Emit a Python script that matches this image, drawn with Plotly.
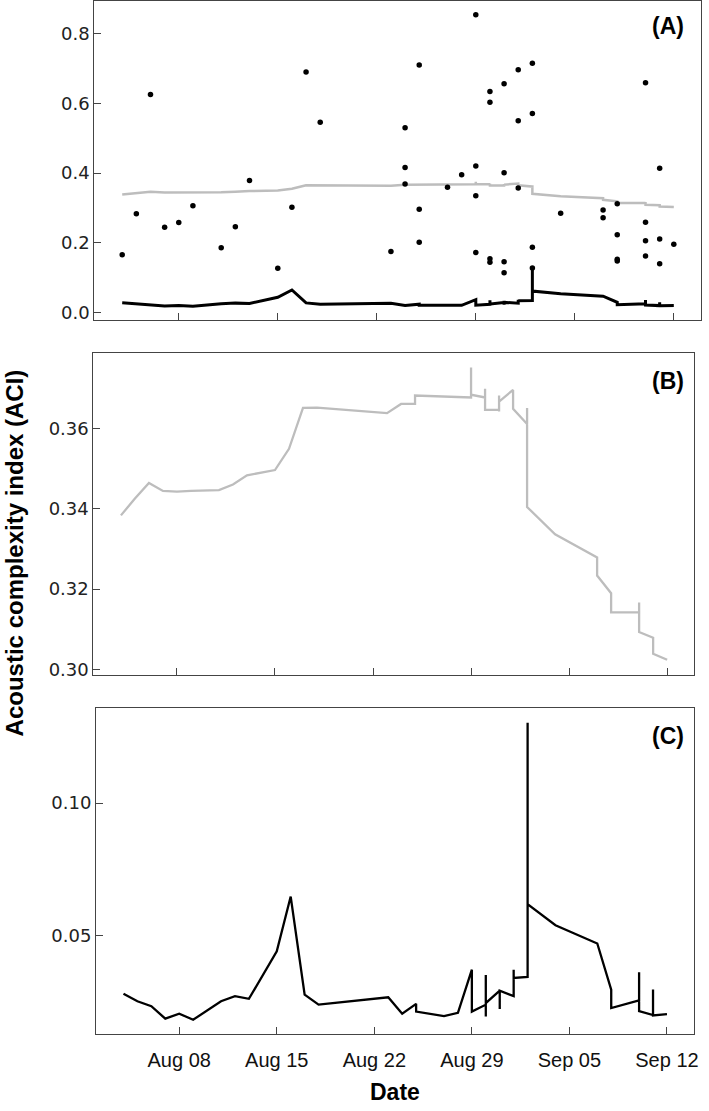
import plotly.graph_objects as go

W, H = 709, 1111

# ---------------- data ----------------
point_dates = [
    "2019-08-04", "2019-08-05", "2019-08-06", "2019-08-07", "2019-08-08", "2019-08-09",
    "2019-08-11", "2019-08-12", "2019-08-13", "2019-08-15", "2019-08-16", "2019-08-17",
    "2019-08-18", "2019-08-23",
    "2019-08-24", "2019-08-24", "2019-08-24",
    "2019-08-25", "2019-08-25", "2019-08-25",
    "2019-08-27", "2019-08-28",
    "2019-08-29", "2019-08-29", "2019-08-29", "2019-08-29",
    "2019-08-30", "2019-08-30", "2019-08-30", "2019-08-30",
    "2019-08-31", "2019-08-31", "2019-08-31", "2019-08-31",
    "2019-09-01", "2019-09-01", "2019-09-01",
    "2019-09-02", "2019-09-02", "2019-09-02", "2019-09-02",
    "2019-09-04",
    "2019-09-07", "2019-09-07",
    "2019-09-08", "2019-09-08", "2019-09-08", "2019-09-08",
    "2019-09-10", "2019-09-10", "2019-09-10", "2019-09-10",
    "2019-09-11", "2019-09-11", "2019-09-11",
    "2019-09-12",
]
point_aci = [
    0.166, 0.283, 0.625, 0.245, 0.258, 0.306,
    0.186, 0.246, 0.379, 0.127, 0.302, 0.690,
    0.546, 0.175,
    0.530, 0.416, 0.369,
    0.710, 0.296, 0.202,
    0.359, 0.395,
    0.854, 0.420, 0.335, 0.172,
    0.634, 0.603, 0.154, 0.144,
    0.656, 0.401, 0.146, 0.114,
    0.696, 0.550, 0.357,
    0.715, 0.571, 0.187, 0.128,
    0.285,
    0.294, 0.272,
    0.312, 0.223, 0.153, 0.148,
    0.659, 0.259, 0.206, 0.162,
    0.414, 0.211, 0.140,
    0.196,
]

mean_dates = [
    "2019-08-04", "2019-08-05", "2019-08-06", "2019-08-07", "2019-08-08", "2019-08-09",
    "2019-08-11", "2019-08-12", "2019-08-13", "2019-08-15", "2019-08-16", "2019-08-17",
    "2019-08-18", "2019-08-23", "2019-08-24",
    "2019-08-25", "2019-08-25",
    "2019-08-27", "2019-08-28",
    "2019-08-29", "2019-08-29", "2019-08-29",
    "2019-08-30", "2019-08-30", "2019-08-30",
    "2019-08-31", "2019-08-31", "2019-08-31", "2019-08-31",
    "2019-09-01", "2019-09-01",
    "2019-09-02", "2019-09-02", "2019-09-02",
    "2019-09-04",
    "2019-09-07", "2019-09-07",
    "2019-09-08", "2019-09-08",
    "2019-09-10", "2019-09-10", "2019-09-10",
    "2019-09-11", "2019-09-11",
    "2019-09-12",
]
mean_aci = [
    0.3384, 0.3426, 0.3465, 0.3445, 0.3443, 0.3445,
    0.3447, 0.3461, 0.3484, 0.3497, 0.3550, 0.3652,
    0.3653, 0.3639, 0.3662,
    0.3662, 0.3683,
    0.3680, 0.3679,
    0.3678, 0.3753, 0.3685,
    0.3678, 0.3700, 0.3647,
    0.3647, 0.3643, 0.3683, 0.3668,
    0.3697, 0.3650,
    0.3612, 0.3652, 0.3405,
    0.3337,
    0.3279, 0.3234,
    0.3190, 0.3142,
    0.3142, 0.3167, 0.3093,
    0.3079, 0.3039,
    0.3024,
]

sd_dates = [
    "2019-08-04", "2019-08-05", "2019-08-06", "2019-08-07", "2019-08-08", "2019-08-09",
    "2019-08-11", "2019-08-12", "2019-08-13", "2019-08-15", "2019-08-16", "2019-08-17",
    "2019-08-18", "2019-08-23", "2019-08-24",
    "2019-08-25", "2019-08-25",
    "2019-08-27", "2019-08-28",
    "2019-08-29", "2019-08-29",
    "2019-08-30", "2019-08-30", "2019-08-30", "2019-08-30",
    "2019-08-31", "2019-08-31", "2019-08-31",
    "2019-09-01", "2019-09-01", "2019-09-01",
    "2019-09-02", "2019-09-02", "2019-09-02",
    "2019-09-04",
    "2019-09-07",
    "2019-09-08", "2019-09-08",
    "2019-09-10", "2019-09-10", "2019-09-10",
    "2019-09-11", "2019-09-11", "2019-09-11",
    "2019-09-12",
]
sd_aci = [
    0.0280, 0.0252, 0.0233, 0.0186, 0.0205, 0.0182,
    0.0252, 0.0271, 0.0261, 0.0440, 0.0647, 0.0277,
    0.0239, 0.0267, 0.0205,
    0.0242, 0.0213,
    0.0196, 0.0208,
    0.0371, 0.0213,
    0.0239, 0.0351, 0.0194, 0.0245,
    0.0292, 0.0223, 0.0292,
    0.0271, 0.0371, 0.0340,
    0.0344, 0.1303, 0.0618,
    0.0539,
    0.0470,
    0.0296, 0.0226,
    0.0255, 0.0361, 0.0215,
    0.0200, 0.0296, 0.0198,
    0.0203,
]

tick_dates = ["2019-08-08", "2019-08-15", "2019-08-22", "2019-08-29", "2019-09-05", "2019-09-12"]
tick_text = ["Aug 08", "Aug 15", "Aug 22", "Aug 29", "Sep 05", "Sep 12"]
x_range = ["2019-08-02 00:43", "2019-09-13 22:10"]

ytick_a = [0.0, 0.2, 0.4, 0.6, 0.8]
ytick_b = [0.30, 0.32, 0.34, 0.36]
ytick_c = [0.05, 0.10]

panel_labels = ["(A)", "(B)", "(C)"]
y_title = "Acoustic complexity index (ACI)"
x_title = "Date"

# ---------------- figure ----------------
GRAY = "#bdbdbd"
AX = "#444444"
FONT = "Liberation Sans, Arial, Helvetica, sans-serif"

fig = go.Figure()
# Panel A
fig.add_trace(go.Scatter(x=mean_dates, y=mean_aci, mode="lines",
                         line=dict(color=GRAY, width=2.5), xaxis="x", yaxis="y"))
fig.add_trace(go.Scatter(x=sd_dates, y=sd_aci, mode="lines",
                         line=dict(color="black", width=3), xaxis="x", yaxis="y"))
fig.add_trace(go.Scatter(x=point_dates, y=point_aci, mode="markers",
                         marker=dict(color="black", size=5.5), xaxis="x", yaxis="y"))
# Panel B
fig.add_trace(go.Scatter(x=mean_dates, y=mean_aci, mode="lines",
                         line=dict(color=GRAY, width=2.3), xaxis="x2", yaxis="y2"))
# Panel C
fig.add_trace(go.Scatter(x=sd_dates, y=sd_aci, mode="lines",
                         line=dict(color="black", width=2.3), xaxis="x3", yaxis="y3"))


def xaxis(domain, anchor, labels):
    return dict(domain=domain, anchor=anchor, type="date", range=x_range,
                tickvals=tick_dates, ticktext=tick_text, showticklabels=labels,
                ticks="inside", ticklen=7, tickcolor=AX, tickwidth=1,
                showline=True, mirror=True, linecolor=AX, linewidth=1,
                showgrid=False, zeroline=False,
                tickfont=dict(family=FONT, size=20, color="#111"),
                ticklabelstandoff=8)


def yaxis(domain, anchor, rng, vals, fmt):
    return dict(domain=domain, anchor=anchor, range=rng,
                tickvals=vals, ticktext=[fmt.format(v) for v in vals],
                ticks="inside", ticklen=7, tickcolor=AX, tickwidth=1,
                showline=True, mirror=True, linecolor=AX, linewidth=1,
                showgrid=False, zeroline=False,
                tickfont=dict(family="DejaVu Sans, sans-serif", size=18, color="#222"),
                ticklabelstandoff=0)


def py(px):
    return 1 - px / H


fig.update_layout(
    width=W, height=H,
    margin=dict(l=0, r=0, t=0, b=0),
    paper_bgcolor="white", plot_bgcolor="white",
    showlegend=False,
    font=dict(family=FONT),
    xaxis=xaxis([95 / W, 706 / W], "y", False),
    yaxis=yaxis([py(321.7), py(1)], "x", [-0.022, 0.8933], ytick_a, "{:.1f}"),
    xaxis2=xaxis([94 / W, 699 / W], "y2", False),
    yaxis2=yaxis([py(678), py(355)], "x2", [0.2986, 0.3788], ytick_b, "{:.2f}"),
    xaxis3=xaxis([96.7 / W, 698.7 / W], "y3", True),
    yaxis3=yaxis([py(1039), py(711.7)], "x3", [0.0127, 0.1357], ytick_c, "{:.2f}"),
)

label_pos = [(673, 26), (672.5, 382.5), (673, 739)]
for txt, (lx, ly) in zip(panel_labels, label_pos):
    fig.add_annotation(text=f"<b>{txt}</b>", x=lx / W, y=py(ly), xref="paper", yref="paper",
                       showarrow=False, xanchor="center", yanchor="middle",
                       font=dict(family=FONT, size=23, color="black"))

fig.add_annotation(text=f"<b>{y_title}</b>", x=15 / W, y=py(555), xref="paper", yref="paper",
                   showarrow=False, textangle=-90, xanchor="center", yanchor="middle",
                   font=dict(family=FONT, size=24, color="black"))
fig.add_annotation(text=f"<b>{x_title}</b>", x=398 / W, y=py(1096.5), xref="paper", yref="paper",
                   showarrow=False, xanchor="center", yanchor="middle",
                   font=dict(family=FONT, size=23, color="black"))

fig.write_html("out.html", config={"displayModeBar": False},
               post_script="document.body.style.margin='0';")
